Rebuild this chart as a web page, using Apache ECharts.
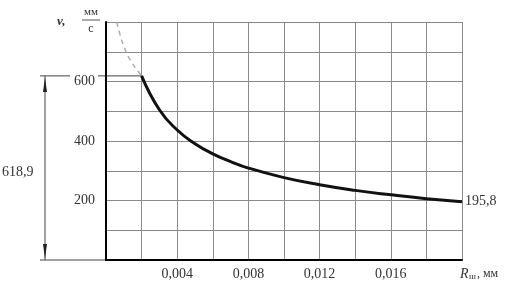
<!DOCTYPE html>
<html>
<head>
    <meta charset="utf-8">
    <title>v(R)</title>
    <script src="https://cdn.jsdelivr.net/npm/echarts@6.0.0/dist/echarts.min.js"></script>
    <style>
        body { margin: 0; background: #fff; }
        #main { width: 505px; height: 287px; }
    </style>
</head>
<body>
<div id="main"></div>
<script>
// кривая скорости, точки
const solidR = [0.002, 0.003, 0.004, 0.005, 0.006, 0.007, 0.008, 0.010, 0.012, 0.014, 0.016, 0.018, 0.020];
const solidV = [618.9, 505, 437, 391, 357, 331, 309, 277, 253, 234, 219, 206, 195.8];
// штриховая часть (экстраполяция)
const dashR = [0.0006, 0.0009, 0.0012, 0.0016, 0.002];
const dashV = [800, 735, 690, 650, 618.9];
const xTicks = [0.004, 0.008, 0.012, 0.016];
const yTicks = [200, 400, 600];
const vStart = 618.9;
const vEnd = 195.8;

const serif = "'Liberation Serif', 'Times New Roman', serif";
const txt = '#333';

const option = {
    animation: false,
    grid: { left: 106, right: 43, top: 22, bottom: 27 },
    xAxis: {
        type: 'value',
        min: 0, max: 0.02, interval: 0.002,
        axisLine: { lineStyle: { color: '#000', width: 2 } },
        axisTick: { show: false },
        splitLine: { lineStyle: { color: '#8a8a8a', width: 1 } },
        axisLabel: {
            margin: 7,
            color: txt, fontFamily: serif, fontSize: 14,
            formatter: v => xTicks.some(t => Math.abs(t - v) < 1e-9) ? v.toFixed(3).replace('.', ',') : ''
        }
    },
    yAxis: {
        type: 'value',
        min: 0, max: 800, interval: 100,
        axisLine: { show: true, lineStyle: { color: '#000', width: 2 } },
        axisTick: { show: false },
        splitLine: { lineStyle: { color: '#8a8a8a', width: 1 } },
        axisLabel: {
            margin: 11,
            color: txt, fontFamily: serif, fontSize: 14,
            formatter: v => yTicks.includes(v) ? String(v) : ''
        }
    },
    series: [
        {
            type: 'line',
            data: dashR.map((r, i) => [r, dashV[i]]),
            smooth: 0.3,
            symbol: 'none',
            lineStyle: { color: '#aaa', width: 1.5, type: [5, 4] },
            z: 2
        },
        {
            type: 'line',
            data: solidR.map((r, i) => [r, solidV[i]]),
            smooth: true,
            symbol: 'none',
            lineStyle: { color: '#111', width: 3 },
            endLabel: {
                show: true,
                formatter: () => String(vEnd).replace('.', ','),
                color: txt, fontFamily: serif, fontSize: 14,
                distance: 3
            },
            z: 3
        }
    ]
};

const chart = echarts.init(document.getElementById('main'));
chart.setOption(option);

// размерная линия 618,9 слева
const pTop = chart.convertToPixel({ gridIndex: 0 }, [solidR[0], vStart]);
const pBot = chart.convertToPixel({ gridIndex: 0 }, [0, 0]);
const dimX = 45;
const tStyle = { fill: txt, font: '14px ' + serif };

chart.setOption({
    graphic: [
        { type: 'line', shape: { x1: 40, y1: pTop[1], x2: 70, y2: pTop[1] }, style: { stroke: '#444', lineWidth: 1 } },
        { type: 'line', shape: { x1: 98, y1: pTop[1], x2: pTop[0], y2: pTop[1] }, style: { stroke: '#444', lineWidth: 1 } },
        { type: 'line', shape: { x1: 40, y1: pBot[1], x2: pBot[0], y2: pBot[1] }, style: { stroke: '#444', lineWidth: 1 } },
        { type: 'line', shape: { x1: dimX, y1: pTop[1], x2: dimX, y2: pBot[1] }, style: { stroke: '#444', lineWidth: 1 } },
        { type: 'polygon', shape: { points: [[dimX, pTop[1] + 1], [dimX - 2, pTop[1] + 16], [dimX + 2, pTop[1] + 16]] }, style: { fill: '#222' } },
        { type: 'polygon', shape: { points: [[dimX, pBot[1] - 1], [dimX - 2, pBot[1] - 16], [dimX + 2, pBot[1] - 16]] }, style: { fill: '#222' } },
        { type: 'text', x: 2, y: (pTop[1] + pBot[1]) / 2 + 4, style: Object.assign({ text: String(vStart).replace('.', ','), verticalAlign: 'middle' }, tStyle) },
        // подпись оси v, мм/с
        { type: 'text', x: 57, y: 22, style: { text: 'v,', fill: txt, font: 'italic bold 13px ' + serif, verticalAlign: 'middle' } },
        { type: 'text', x: 91, y: 12, style: { text: 'мм', fill: txt, font: '11px ' + serif, align: 'center', verticalAlign: 'middle' } },
        { type: 'line', shape: { x1: 82, y1: 20, x2: 100, y2: 20 }, style: { stroke: '#555', lineWidth: 1 } },
        { type: 'text', x: 91, y: 29, style: { text: 'с', fill: txt, font: '12px ' + serif, align: 'center', verticalAlign: 'middle' } },
        // подпись оси R
        { type: 'text', x: 460, y: 274, style: { text: 'R', fill: txt, font: 'italic 14px ' + serif, verticalAlign: 'middle' } },
        { type: 'text', x: 469, y: 277, style: { text: 'ш', fill: txt, font: '9px ' + serif, verticalAlign: 'middle' } },
        { type: 'text', x: 477, y: 274, style: { text: ', мм', fill: txt, font: '12px ' + serif, verticalAlign: 'middle' } }
    ]
});
</script>
</body>
</html>
